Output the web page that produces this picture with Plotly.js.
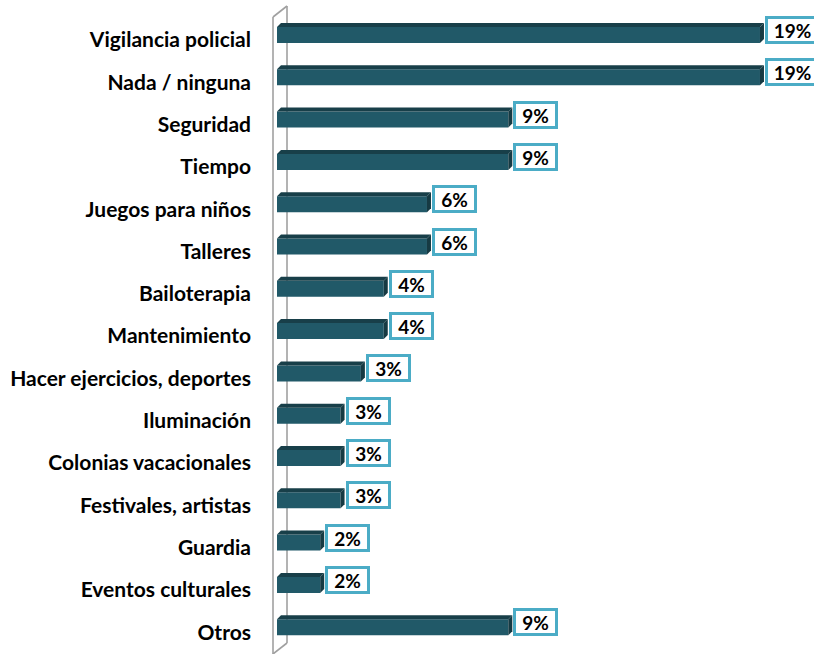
<!DOCTYPE html>
<html>
<head>
<meta charset="utf-8">
<script src="https://cdn.plot.ly/plotly-3.0.1.min.js"></script>
<style>html,body{margin:0;padding:0;background:#fff;}#chart{width:814px;height:654px;}</style>
</head>
<body>
<div id="chart"></div>
<script>
const categories = ['Vigilancia policial','Nada / ninguna','Seguridad','Tiempo','Juegos para niños','Talleres','Bailoterapia','Mantenimiento','Hacer ejercicios, deportes','Iluminación','Colonias vacacionales','Festivales, artistas','Guardia','Eventos culturales','Otros'];
const values = [19.0, 19.0, 9.1, 9.1, 5.9, 5.9, 4.2, 4.2, 3.3, 2.5, 2.5, 2.5, 1.7, 1.7, 9.1];
const valueLabels = ['19%','19%','9%','9%','6%','6%','4%','4%','3%','3%','3%','3%','2%','2%','9%'];

const W = 814, H = 654;
const plotLeft = 277;
const pxPerUnitX = 25.42;
const xMax = (W - plotLeft) / pxPerUnitX;
const firstCatPx = 40, catStep = 42.3;
const y0 = -firstCatPx / catStep;
const y1 = y0 + H / catStep;
const dx = px => px / pxPerUnitX;
const dy = px => px / catStep;

const idx = categories.map((c, i) => i);
const frontTop = 13, frontBottom = 3, depth = 4;

const shapes = [];
// 3D top and side faces for each bar
values.forEach((v, i) => {
  const yt = i - dy(frontTop), yb = i + dy(frontBottom);
  shapes.push({type:'path', xref:'x', yref:'y', layer:'above',
    path:`M 0 ${yt} L ${dx(depth)} ${yt - dy(depth)} L ${v + dx(depth)} ${yt - dy(depth)} L ${v} ${yt} Z`,
    fillcolor:'#183f49', line:{width:0}});
  shapes.push({type:'path', xref:'x', yref:'y', layer:'above',
    path:`M ${v} ${yt} L ${v + dx(depth)} ${yt - dy(depth)} L ${v + dx(depth)} ${yb - dy(depth)} L ${v} ${yb} Z`,
    fillcolor:'#163a43', line:{width:0}});
});
// side wall lines
const px2paperX = px => (px - plotLeft) / (W - plotLeft);
const px2paperY = py => 1 - py / H;
const wall = (xa, ya, xb, yb) => ({type:'line', xref:'paper', yref:'paper', layer:'below',
  x0:px2paperX(xa), y0:px2paperY(ya), x1:px2paperX(xb), y1:px2paperY(yb),
  line:{color:'#a0a0a0', width:1.6}});
shapes.push(wall(273, 17, 273, 654));
shapes.push(wall(287, 6, 287, 643));
shapes.push(wall(273, 17, 287, 6));
shapes.push(wall(287, 643, 273, 654));

const annotations = values.map((v, i) => ({
  x: v, y: i, xref:'x', yref:'y', text: valueLabels[i],
  xanchor:'left', yanchor:'middle', xshift: 5, yshift: 10,
  showarrow:false, bgcolor:'#ffffff', bordercolor:'#4bacc6', borderwidth:3, borderpad:2,
  width: valueLabels[i].length * 10 + 15, height: 18,
  font:{family:'Lato, "Liberation Sans", sans-serif', size:19, color:'#000000', weight:'bold'}
}));

const trace = {
  type:'bar', orientation:'h', x: values, y: idx,
  width: dy(frontTop + frontBottom), offset: -dy(frontTop),
  marker:{color:'#215968', line:{width:0}},
  hoverinfo:'skip'
};

const layout = {
  width: W, height: H,
  margin:{l: plotLeft, r:0, t:0, b:0, pad:0},
  paper_bgcolor:'#ffffff', plot_bgcolor:'rgba(0,0,0,0)',
  showlegend:false,
  xaxis:{range:[0, xMax], showgrid:false, zeroline:false, showticklabels:false, showline:false, ticks:''},
  yaxis:{range:[y1, y0], tickmode:'array', tickvals: idx, ticktext: categories,
    showgrid:false, zeroline:false, showline:false, ticks:'', ticklabelstandoff: 25,
    tickfont:{family:'Lato, "Liberation Sans", sans-serif', size:21, color:'#000000', weight:'bold'}},
  shapes: shapes,
  annotations: annotations
};

Plotly.newPlot('chart', [trace], layout, {displayModeBar:false, staticPlot:true});
</script>
</body>
</html>
